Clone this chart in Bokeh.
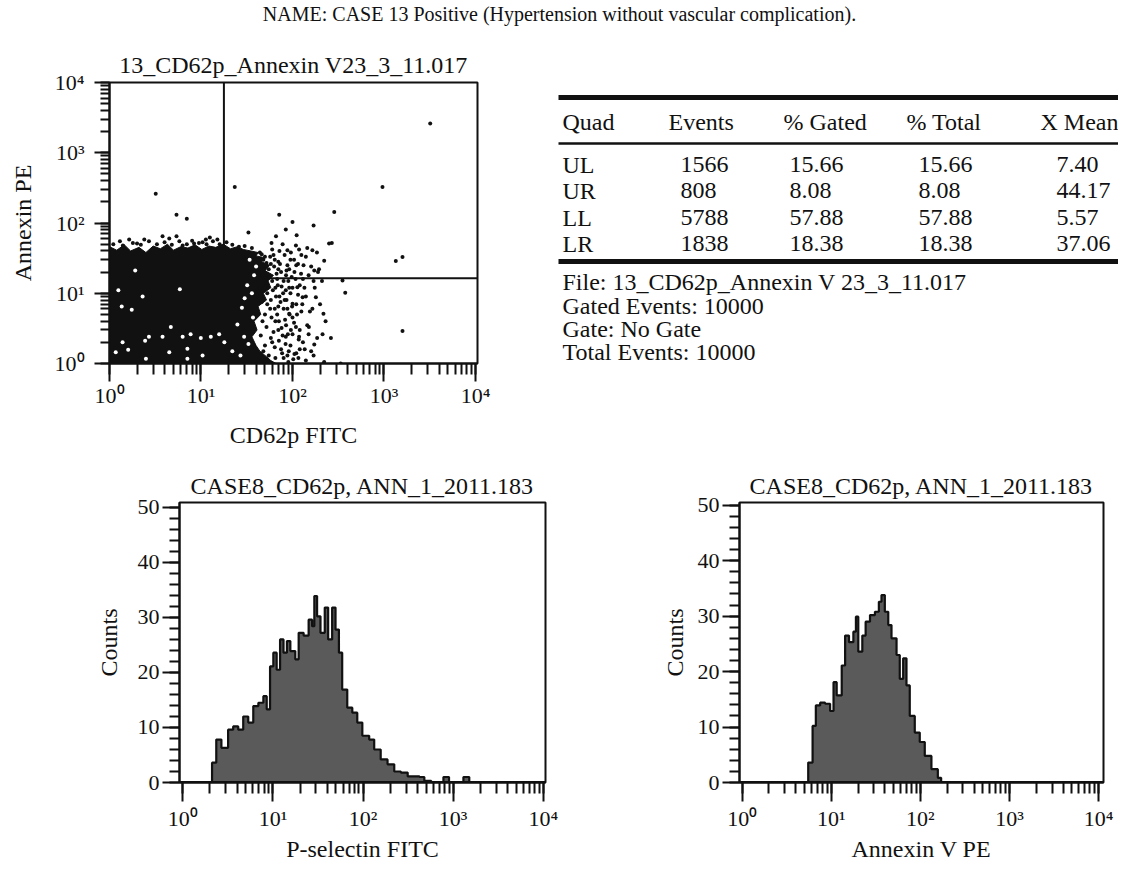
import numpy as np
from bokeh.plotting import figure
from bokeh.layouts import column, row
from bokeh.models import (Range1d, LogTicker, SingleIntervalTicker,
                          CustomJSTickFormatter, Label)
from bokeh.core.properties import value
from bokeh.embed import file_html
from bokeh.resources import INLINE

FONT = "Liberation Serif"
INK = "#111111"
GREY = "#5a5a5a"

# ---------------- texts ----------------
main_title = "NAME: CASE 13 Positive (Hypertension without vascular complication)."
dot_title = "13_CD62p_Annexin V23_3_11.017"
dot_xlabel = "CD62p FITC"
dot_ylabel = "Annexin PE"
hist_title = "CASE8_CD62p, ANN_1_2011.183"
hist1_xlabel = "P-selectin FITC"
hist2_xlabel = "Annexin V PE"
hist_ylabel = "Counts"

# ---------------- dot plot data ----------------
quad_x = 17.8   # quadrant marker on CD62p FITC
quad_y = 16.3   # quadrant marker on Annexin PE

# outline of the saturated (solid black) event cloud
blob_x = [1, 1, 1.2, 1.45, 1.7, 2.1, 2.5, 3.0, 3.6, 4.3, 5.0, 6.0, 7.2, 8.6, 10.2, 12.2,
          14.5, 17.5, 21, 25, 29, 35, 42, 40, 50, 46, 56, 50, 62, 54, 58, 48, 52, 42,
          45, 38, 41, 36, 40, 44, 52, 58, 66]
blob_y = [1, 46, 41, 49, 40, 45, 38, 47, 43, 50, 41, 46, 44, 49, 42, 47,
          45, 50, 43, 46, 42, 40, 38, 34, 32, 28, 25, 21, 18, 15, 12, 10, 8, 6.5,
          5, 4, 3, 2.4, 1.8, 1.5, 1.25, 1.1, 1]

# individual events outside the saturated cloud
event_x = [3200, 3.2, 23.4, 963, 5.4, 7.0, 71.6, 286, 100, 170, 33, 66, 84.5, 1346, 1593,
           352, 377, 1593, 269, 218, 263, 218, 336, 170, 186, 3.8, 5.4, 1.64, 251, 165,
           222, 195, 180, 151, 213, 173, 222, 118, 109, 129, 113, 100, 88, 140, 173,
           88, 84.5, 92, 84.5, 105, 109, 111, 15.1, 11.3, 2.0, 6.3, 8.4, 10.4,
           48, 55, 62, 70, 52, 65, 75, 90, 58, 72, 80, 95, 110, 50, 65, 85, 100, 120,
           45, 60, 75, 95, 130, 55, 80, 110, 140, 105, 120, 140, 150, 160, 175, 200,
           210, 125, 145, 185, 78, 60, 95, 68, 85, 115, 130, 155, 70, 62, 90, 120,
           1.1, 1.4, 1.8, 2.2, 2.7, 3.3, 4.0, 4.8, 5.8, 7.0, 8.0, 9.5, 11.5, 13.5,
           16, 19, 22, 26, 30, 36, 1.3, 2.4, 12.5, 4.5,
           44, 50, 58, 64, 47, 53, 60, 66, 57, 68, 44, 76, 82, 88, 70, 78, 52, 48,
           65, 100, 92, 104, 118, 96, 132, 70, 82, 108, 115, 125, 145, 160, 100, 88,
           59, 72,
           46, 52, 57, 63, 67, 73, 80, 86, 92, 98, 55, 61, 69, 74, 79, 86, 93, 99,
           104, 112, 53, 59, 64, 71, 76, 83, 89, 96, 58, 64, 71, 77, 84, 91, 102, 116,
           50, 47, 46, 50, 49, 110, 124, 135, 128, 117, 136, 150, 165, 170, 190, 230]
event_y = [2600, 261, 325, 325, 131, 115, 131, 143, 103, 92, 73, 65, 81, 28.7, 32.7,
           15.2, 10.2, 2.9, 52, 5.1, 2.3, 1.0, 1.0, 1.3, 2.3, 65, 65, 58, 51, 41,
           29, 22, 8.8, 3.3, 2.6, 1.86, 1.05, 2.4, 3.3, 8.8, 12.2, 7.1, 41, 33, 21,
           25, 11, 5.1, 2.4, 1.37, 48, 67, 58, 58, 51, 48, 51, 53,
           30, 22, 35, 28, 14, 12, 20, 15, 8, 9, 6, 10, 7, 5, 4, 3.5, 4.5, 3,
           2.5, 2.0, 1.6, 1.8, 2.0, 1.3, 1.2, 1.4, 1.1, 20, 13, 9, 18, 24, 12, 7,
           15, 35, 44, 38, 50, 42, 30, 16, 18, 26, 16, 5.5, 6.5, 2.8, 1.05, 1.6,
           50, 48, 52, 49, 55, 50, 53, 49, 55, 50, 56, 52, 50, 55,
           50, 53, 49, 46, 47, 44, 55, 58, 62, 60,
           38, 33, 26, 30, 18, 10, 15, 9, 6, 5, 12, 12.5, 8, 6, 3, 2.5, 3.3, 1.5,
           1.2, 12, 22, 30, 42, 38, 25, 22, 35, 16, 9.5, 5.5, 3.5, 1.5, 2.6, 1.3,
           52, 40,
           36, 27, 33, 24, 19, 26, 15, 21, 12, 17, 17, 11, 13, 7.5, 10, 8, 5, 6.5,
           3.8, 5, 7, 4.5, 6, 4, 3.2, 4.2, 2.6, 3, 2.3, 1.7, 2.1, 1.4, 1.9, 1.5, 1.15, 1.2,
           1.8, 4, 7.5, 12, 22, 25, 19, 12, 7, 2.2, 1.6, 2.6, 6, 15, 20, 4]

# sparse (unsaturated) spots inside the cloud
gap_x = [1.91, 5.87, 2.3, 1.36, 1.75, 4.68, 3.8, 6.3, 7.7, 9.96, 12.8, 15.8, 2.7, 1.39,
         2.45, 1.17, 1.6, 2.5, 4.5, 7.1, 7.1, 10.4, 29.6, 25, 28, 33, 36, 38, 32, 27,
         22, 18, 34, 40, 37, 1.25, 30]
gap_y = [21.1, 11.4, 9.0, 6.5, 5.8, 3.3, 2.4, 2.4, 2.6, 2.3, 2.4, 2.6, 2.4, 2.0,
         2.1, 1.45, 1.57, 1.17, 1.45, 1.62, 1.17, 1.3, 2.4, 3.6, 6.2, 1.9, 10, 18, 13, 1.3,
         1.5, 2.0, 30, 24, 4.5, 11, 8.5]

# ---------------- quadrant statistics table ----------------
table_header = ["Quad", "Events", "% Gated", "% Total", "X Mean"]
quad_names = ["UL", "UR", "LL", "LR"]
quad_events = ["1566", "808", "5788", "1838"]
quad_pct_gated = ["15.66", "8.08", "57.88", "18.38"]
quad_pct_total = ["15.66", "8.08", "57.88", "18.38"]
quad_x_mean = ["7.40", "44.17", "5.57", "37.06"]
file_info = ["File: 13_CD62p_Annexin V 23_3_11.017", "Gated Events: 10000",
             "Gate: No Gate", "Total Events: 10000"]

# ---------------- histograms (channel value, counts) ----------------
hist1_x = [1, 2.11, 2.35, 2.68, 3.18, 3.62, 4.12, 4.68, 5.32, 6.05, 6.89, 7.83, 8.53, 9.29,
           10.1, 11.0, 12.0, 13.1, 14.3, 15.6, 17.7, 19.3, 21.9, 24.9, 27.2, 28.8, 30.9,
           33.7, 37.6, 41.0, 45.4, 49.5, 54.0, 58.7, 66.8, 76.0, 86.3, 98.2, 117, 133,
           157, 187, 222, 263, 313, 423, 479, 570, 780, 900, 1300, 1510]
hist1_counts = [0, 3.6, 7.8, 6.3, 9.6, 10.2, 9.6, 12.0, 10.9, 13.9, 14.5, 15.7, 13.3, 21.1,
                23.6, 20.5, 26.0, 23.6, 25.7, 23.9, 22.4, 27.2, 26.7, 29.6, 28.4, 33.9, 30.2,
                27.2, 31.8, 26.0, 31.8, 27.8, 23.6, 16.9, 13.6, 12.7, 10.9, 8.5, 7.8, 6.0,
                4.2, 3.3, 2.0, 1.8, 1.1, 1.0, 0.3, 0, 1.0, 0, 1.0, 0]

hist2_x = [1, 5.51, 6.17, 6.71, 7.50, 8.53, 9.70, 10.6, 11.5, 13.1, 14.3, 15.8, 17.7, 18.9,
           20.1, 22.3, 24.3, 27.2, 30.9, 34.2, 36.6, 39.9, 43.6, 47.4, 54.0, 58.7, 64.1,
           69.8, 76.0, 86.5, 98.4, 112, 133, 157, 171]
hist2_counts = [0, 3.6, 10.2, 13.9, 14.4, 14.2, 12.9, 18.1, 15.7, 21.1, 26.5, 25.3, 27.2, 29.9,
                23.6, 26.5, 29.0, 30.2, 30.8, 32.6, 33.8, 30.8, 28.4, 26.0, 23.0, 18.7, 22.4,
                17.5, 12.0, 9.0, 7.3, 4.8, 2.4, 0.85, 0]

# ---------------- helpers ----------------
log_fmt = CustomJSTickFormatter(code="""
const e = Math.round(Math.log10(tick));
const sup = ['\u2070','\u00b9','\u00b2','\u00b3','\u2074','\u2075','\u2076','\u2077','\u2078','\u2079'];
return '10' + sup[e];
""")


def style(p, title_standoff):
    p.background_fill_color = "white"
    p.border_fill_color = "white"
    p.outline_line_color = INK
    p.outline_line_width = 2
    p.grid.visible = False
    p.title.text_font = FONT
    p.title.text_font_size = "24px"
    p.title.text_font_style = "normal"
    p.title.text_color = INK
    p.title.align = "center"
    p.title.standoff = title_standoff
    for ax in list(p.xaxis) + list(p.yaxis):
        ax.axis_line_color = INK
        ax.axis_line_width = 2
        ax.major_tick_line_color = INK
        ax.major_tick_line_width = 2
        ax.minor_tick_line_color = INK
        ax.minor_tick_line_width = 2
        ax.major_tick_in = 0
        ax.minor_tick_in = 0
        ax.major_label_text_font = FONT
        ax.major_label_text_font_size = "22px"
        ax.major_label_text_color = INK
        ax.axis_label_text_font = FONT
        ax.axis_label_text_font_size = "24px"
        ax.axis_label_text_font_style = "normal"
        ax.axis_label_text_color = INK


def step_outline(xs, cs, x_end):
    px, py = [], []
    for i, (x, c) in enumerate(zip(xs, cs)):
        nx = xs[i + 1] if i + 1 < len(xs) else x_end
        px += [x, nx]
        py += [c, c]
    return px, py


# ---------------- top strip with the case name ----------------
pT = figure(width=1118, height=42, x_range=Range1d(8, 1126), y_range=Range1d(50, 8),
            x_axis_location=None, y_axis_location=None, min_border=0, title=None,
            toolbar_location=None, output_backend="svg")
pT.outline_line_color = None
pT.grid.visible = False
pT.add_layout(Label(x=567, y=21, text=main_title, text_font=FONT, text_font_size="20px",
                    text_color=INK, text_baseline="alphabetic", text_align="center"))

# ---------------- dot plot ----------------
pA = figure(frame_width=368, frame_height=281, x_axis_type="log", y_axis_type="log",
            x_range=Range1d(1, 10 ** 4.022), y_range=Range1d(1, 1e4),
            min_border_left=109, min_border_right=47, min_border_top=40, min_border_bottom=85,
            title=dot_title, toolbar_location=None, output_backend="svg")
style(pA, 10)
pA.xaxis.ticker = LogTicker(num_minor_ticks=10)
pA.yaxis.ticker = LogTicker(num_minor_ticks=10)
pA.xaxis.formatter = log_fmt
pA.yaxis.formatter = log_fmt
pA.xaxis.axis_label = dot_xlabel
pA.yaxis.axis_label = dot_ylabel
pA.xaxis.major_tick_out = 18
pA.xaxis.minor_tick_out = 11
pA.xaxis.major_label_standoff = 1
pA.xaxis.axis_label_standoff = 11
pA.yaxis.major_tick_out = 15
pA.yaxis.minor_tick_out = 9
pA.yaxis.major_label_standoff = 10
pA.yaxis.axis_label_standoff = 16

pA.line([quad_x, quad_x], [1, 1e4], line_color=INK, line_width=2)
pA.line([quad_x, 10 ** 4.022], [quad_y, quad_y], line_color=INK, line_width=2)
pA.patch(blob_x, blob_y, fill_color=INK, line_color=INK, line_width=1)
pA.scatter(gap_x, gap_y, size=4, marker="circle", fill_color="white", line_color=None)
pA.scatter(event_x, event_y, size=4, marker="circle", fill_color=INK, line_color=None)

# ---------------- table (page-pixel coordinates, aligned with dot plot frame) ----------------
pB = figure(frame_width=594, frame_height=281, x_range=Range1d(532, 1126),
            y_range=Range1d(363, 82),
            x_axis_location=None, y_axis_location=None, title=None,
            min_border_left=0, min_border_right=0, min_border_top=40, min_border_bottom=85,
            toolbar_location=None, output_backend="svg")
pB.outline_line_color = None
pB.grid.visible = False

head_x = [570, 676, 791, 914, 1048]
val_x = [570, 688, 797, 926, 1064]
head_mid = 121
row_mid = [164, 190, 217, 243]
info_mid = [281, 305, 328, 351]
rule_y = [97, 143, 261]
txt = dict(text_font=value(FONT), text_font_size="24px", text_color=INK,
           text_baseline="middle", text_align="left")
pB.text(x=head_x, y=[head_mid] * 5, text=table_header, **txt)
columns = [quad_names, quad_events, quad_pct_gated, quad_pct_total, quad_x_mean]
for cx, col in zip(val_x, columns):
    pB.text(x=[cx] * len(col), y=row_mid, text=col, **txt)
pB.text(x=[570] * len(file_info), y=info_mid, text=file_info, **txt)
pB.segment(x0=[566] * 3, y0=rule_y, x1=[1126] * 3, y1=rule_y,
           line_color=INK, line_width=[5, 2.5, 5])


# ---------------- histograms ----------------
def histogram(xs, cs, xr, ytop, fw, left, right, xlabel, ylab_standoff):
    p = figure(frame_width=fw, frame_height=280, x_axis_type="log",
               x_range=Range1d(*xr), y_range=Range1d(0, ytop),
               min_border_left=left, min_border_right=right,
               min_border_top=52, min_border_bottom=77,
               title=hist_title, toolbar_location=None, output_backend="svg")
    style(p, 7)
    p.xaxis.ticker = LogTicker(num_minor_ticks=10)
    p.xaxis.formatter = log_fmt
    p.yaxis.ticker = SingleIntervalTicker(interval=10, num_minor_ticks=5)
    p.xaxis.axis_label = xlabel
    p.yaxis.axis_label = hist_ylabel
    p.xaxis.major_tick_out = 19
    p.xaxis.minor_tick_out = 11
    p.xaxis.major_label_standoff = 4
    p.xaxis.axis_label_standoff = 2
    p.yaxis.major_tick_out = 17
    p.yaxis.minor_tick_out = 10
    p.yaxis.major_label_standoff = 3
    p.yaxis.axis_label_standoff = ylab_standoff
    px, py = step_outline(xs, cs, xr[1])
    p.patch(px + [xr[1], xs[0]], py + [0, 0], fill_color=GREY, line_color=None)
    p.line(px, py, line_color=INK, line_width=2.2)
    p.line([xr[0], xr[1]], [0, 0], line_color=INK, line_width=3)
    return p


pC = histogram(hist1_x, hist1_counts, (10 ** -0.037, 10 ** 4.025), 50.9, 366,
               179, 47, hist1_xlabel, 13)
pD = histogram(hist2_x, hist2_counts, (10 ** -0.03, 10 ** 4.055), 50.5, 364,
               147, 15, hist2_xlabel, 7)

layout = column(pT, row(pA, pB), row(pC, pD))
open("out.html", "w").write(file_html(layout, INLINE))
